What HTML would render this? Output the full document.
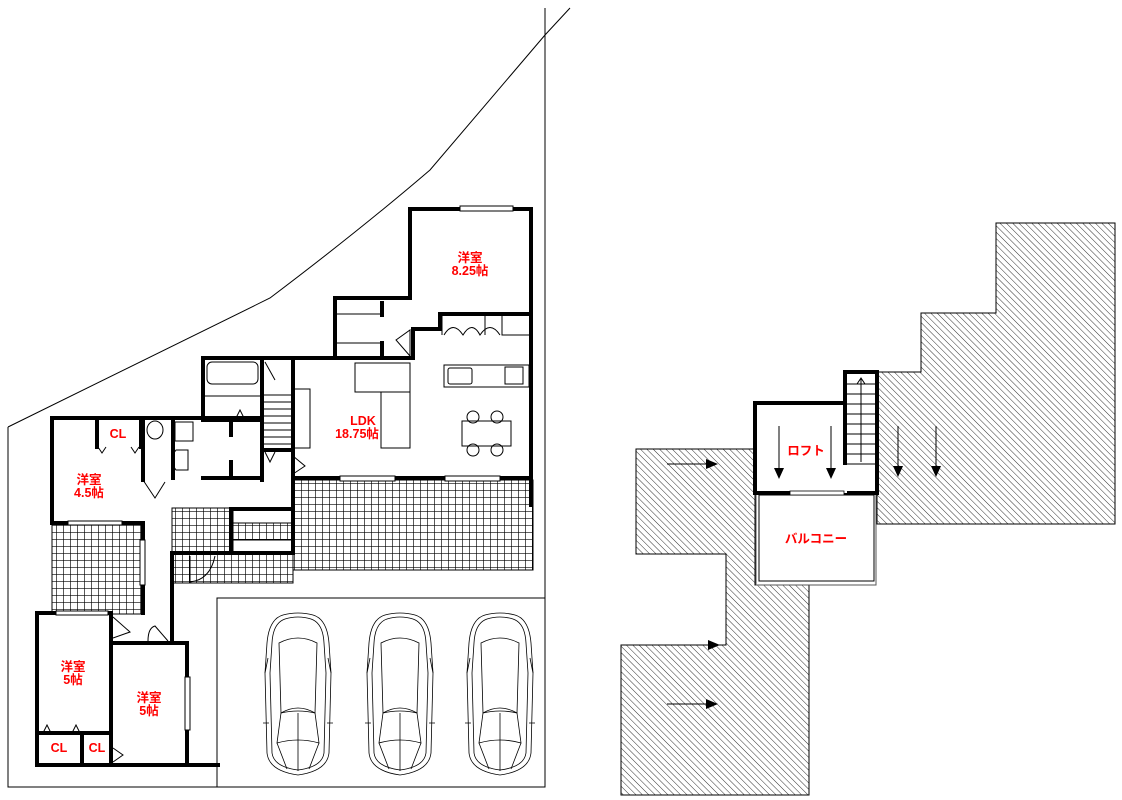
<!DOCTYPE html>
<html><head><meta charset="utf-8"><style>
html,body{margin:0;padding:0;background:#fff}
svg{display:block}
text{font-family:"Liberation Sans","Noto Sans CJK JP",sans-serif;font-weight:bold;fill:#f00;font-size:12.5px;text-anchor:middle}
</style></head><body>
<svg width="1122" height="800" viewBox="0 0 1122 800" xmlns="http://www.w3.org/2000/svg">
<defs>
<pattern id="tile" width="7" height="7" patternUnits="userSpaceOnUse"><rect width="7" height="7" fill="#fff"/><path d="M0 0H7M0 0V7" stroke="#000" stroke-width="1.3"/></pattern>
<pattern id="hatch" width="4.5" height="4.5" patternUnits="userSpaceOnUse" patternTransform="rotate(-45)"><rect width="4.5" height="4.5" fill="#fff"/><line x1="0" y1="0" x2="0" y2="4.5" stroke="#333" stroke-width="1"/></pattern>
<g id="car" fill="none" stroke="#000" stroke-width="0.8">
<path d="M18 2 Q33 -2 48 2 Q62 6 64 30 L66 60 L64 140 Q62 158 33 162 Q4 158 2 140 L0 60 L2 30 Q4 6 18 2Z"/>
<path d="M20 6 Q33 2 46 6 Q58 10 59 30 L61 60 L59 140 Q57 154 33 157 Q9 154 7 140 L5 60 L7 30 Q8 10 20 6Z"/>
<path d="M14 30 Q33 20 52 30 L50 100 Q33 96 16 100Z"/>
<path d="M16 100 Q33 90 50 100 L54 130 Q33 124 12 130Z"/>
<path d="M12 130 L22 156 M54 130 L44 156 M33 100 V158"/>
<path d="M3 45 L0 60 M63 45 L66 60 M-2 110 H4 M62 110 H68"/>
</g>
</defs>

<g fill="none" stroke="#000" stroke-width="1">
<path d="M8 427 L270 298 Q360 230 430 170 L545 35 L570 8"/>
<path d="M8 427 V787 H545 V8"/>
<rect x="217" y="598" width="328" height="189"/>
</g>

<rect x="293" y="480" width="240" height="90" fill="url(#tile)" stroke="#000"/>
<rect x="52" y="523" width="91" height="91" fill="url(#tile)" stroke="#000"/>
<rect x="172" y="508" width="61" height="45" fill="url(#tile)" stroke="#000"/>
<rect x="233" y="523" width="60" height="17" fill="url(#tile)" stroke="#000"/>
<rect x="172" y="553" width="121" height="30" fill="url(#tile)" stroke="#000"/>

<g fill="none" stroke="#000" stroke-width="4" stroke-linecap="square">
<path d="M410 209 H531 V505"/>
<path d="M410 209 V298 H335 V358"/>
<path d="M531 314 H440 V329 H413 V358"/>
<path d="M382 303 V315 M382 343 V358"/>
<path d="M203 358 H413"/>
<path d="M203 358 V420 H262"/>
<path d="M262 358 V480"/>
<path d="M293 358 V478 M262 450 H293"/>
<path d="M293 478 H531"/>
<path d="M293 478 V553"/>
<path d="M52 418 V523 H143"/>
<path d="M52 418 H262"/>
<path d="M97 418 V447 M141 418 V447"/>
<path d="M143 418 V480 M143 523 V613"/>
<path d="M173 418 V478"/>
<path d="M203 478 H262"/>
<path d="M231 420 V435 M231 462 V478"/>
<path d="M231 509 H293 M231 509 V553 M172 553 H293 M172 553 V643"/>
<path d="M37 613 H111 V765 M37 613 V765 H218"/>
<path d="M111 643 H187 V765"/>
<path d="M37 733 H111 M82 733 V765"/>
</g>

<g fill="none" stroke="#000" stroke-width="1">
<rect x="460" y="206" width="53" height="5" fill="#fff"/>
<path d="M337 314 H382 M337 343 H382"/>
<path d="M442 316 V335 M485 316 V335 M502 316 V335 H531"/>
<path d="M444 335 Q453 320 463 335 Q472 320 480 335 Q490 320 500 335"/>
<rect x="444" y="365" width="85" height="22"/>
<rect x="448" y="368" width="24" height="16" rx="2"/>
<rect x="505" y="367" width="18" height="17"/>
<rect x="355" y="363" width="55" height="29"/>
<path d="M381 392 V448 H410 V392"/>
<rect x="293" y="389" width="17" height="59"/>
<rect x="462" y="421" width="49" height="25"/>
<circle cx="473" cy="417" r="6"/><circle cx="497" cy="417" r="6"/><circle cx="473" cy="450" r="6"/><circle cx="497" cy="450" r="6"/>
<rect x="207" y="362" width="51" height="22" rx="5"/>
<path d="M205 396 H260 M235 420 L240 410 L245 420"/>
<path d="M265 362 L275 380 M262 395 H293 M262 402 H293 M262 409 H293 M262 416 H293 M262 423 H293 M262 430 H293 M262 437 H293 M262 444 H293"/>
<path d="M265 452 L270 462 L275 452"/>
<path d="M293 456 L305 466 L293 474"/>
<path d="M396 340 L410 330 V356 Z"/>
<ellipse cx="155" cy="430" rx="8" ry="9"/>
<rect x="175" y="422" width="18" height="19"/>
<path d="M176 450 H188 V470 H176 Q168 460 176 450Z"/>
<path d="M143 480 L155 498 L165 482"/>
<path d="M98 447 L102 453 L106 447 M131 447 L135 453 L139 447"/>
<rect x="68" y="521" width="54" height="4" fill="#fff"/>
<rect x="56" y="611" width="52" height="4" fill="#fff"/>
<rect x="140" y="540" width="5" height="45" fill="#fff"/>
<rect x="185" y="677" width="5" height="53" fill="#fff"/>
<rect x="340" y="476" width="55" height="5" fill="#fff"/>
<rect x="445" y="476" width="55" height="5" fill="#fff"/>
<path d="M113 617 L130 632 L113 638 M148 641 Q148 628 155 626 L168 641"/>
<path d="M43 733 L47 725 L51 733 M72 733 L76 725 L80 733 M113 748 L123 755 L113 762"/>
<path d="M190 556 V582 Q210 580 215 556"/>
</g>

<g stroke="#000" stroke-width="1" fill="url(#hatch)">
<path d="M996 223 H1115 V524 H877 V372 H921 V313 H996Z"/>
<path d="M636 449 H755 V585 H809 V795 H621 V645 H726 V554 H636Z"/>
</g>
<rect x="756" y="493" width="120" height="92" fill="#fff" stroke="#555"/>
<rect x="759" y="495" width="115" height="86" fill="none" stroke="#000"/>
<rect x="755" y="403" width="122" height="90" fill="#fff" stroke="#000" stroke-width="4"/>
<rect x="845" y="372" width="32" height="121" fill="#fff" stroke="#000" stroke-width="4"/>
<rect x="847" y="465" width="28" height="26" fill="#fff"/>
<path d="M845 465 V493" stroke="#fff" stroke-width="4"/>
<g fill="none" stroke="#000" stroke-width="1">
<path d="M847 384 H875 M847 394 H875 M847 404 H875 M847 414 H875 M847 424 H875 M847 434 H875 M847 444 H875 M847 454 H875 M847 464 H875"/>
<path d="M861 462 V378 M857 384 L861 378 L865 384"/>
</g>
<rect x="790" y="491" width="54" height="4" fill="#fff" stroke="#000" stroke-width="0.8"/>

<g stroke="#000" stroke-width="1">
<path d="M779 426 V470 M831 426 V470 M898 426 V468 M936 426 V468"/>
<path d="M667 464 H708 M667 704 H708 M700 645 H710"/>
</g>
<g fill="#000">
<path d="M774 468 H784 L779 479Z M826 468 H836 L831 479Z M893 466 H903 L898 477Z M931 466 H941 L936 477Z"/>
<path d="M706 459 L718 464 L706 469Z M706 699 L718 704 L706 709Z M708 640 L720 645 L708 650Z"/>
</g>

<use href="#car" x="265" y="613"/>
<use href="#car" x="367" y="613"/>
<use href="#car" x="467" y="613"/>

<text x="470" y="262">洋室</text><text x="470" y="275">8.25帖</text>
<text x="363" y="425">LDK</text><text x="357" y="438">18.75帖</text>
<text x="89" y="484">洋室</text><text x="89" y="497">4.5帖</text>
<text x="118" y="438">CL</text>
<text x="73" y="671">洋室</text><text x="73" y="684">5帖</text>
<text x="149" y="702">洋室</text><text x="149" y="715">5帖</text>
<text x="59" y="752">CL</text><text x="97" y="752">CL</text>
<text x="806" y="455">ロフト</text>
<text x="816" y="543">バルコニー</text>
</svg>
</body></html>
